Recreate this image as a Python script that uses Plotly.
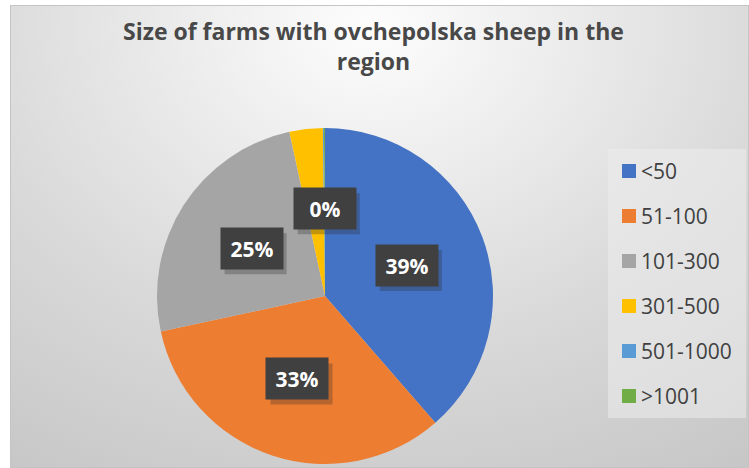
import base64
import math
import plotly.graph_objects as go

# Farm size classes and their share of farms (%)
categories = ["<50", "51-100", "101-300", "301-500", "501-1000", ">1001"]
shares = [38.6, 33.0, 25.0, 3.2, 0.1, 0.1]
colors = ["#4472C4", "#ED7D31", "#A5A5A5", "#FFC000", "#5B9BD5", "#70AD47"]
# slices whose percentage is printed in a box
labelled = [0, 1, 2, 5]

title_text = "Size of farms with ovchepolska sheep in the<br>region"

W, H = 749, 468
CX, CY, R = 325, 296, 168


def px_x(x):
    return x / W


def px_y(y):
    return 1 - y / H


# soft radial background of the chart area
svg = (
    '<svg xmlns="http://www.w3.org/2000/svg" width="739" height="463" '
    'preserveAspectRatio="none" viewBox="0 0 739 463">'
    '<defs><radialGradient id="g" cx="0.49" cy="0.05" r="1.0" '
    'gradientTransform="translate(0.49 0.05) scale(1 1.25) translate(-0.49 -0.05)">'
    '<stop offset="0" stop-color="#fdfdfd"/>'
    '<stop offset="0.55" stop-color="#d9d9d9"/>'
    '<stop offset="1" stop-color="#c2c2c2"/>'
    '</radialGradient></defs>'
    '<rect width="739" height="463" fill="url(#g)"/>'
    '<rect x="0.5" y="0.5" width="738" height="462" fill="none" stroke="#c4c4c4" stroke-width="1"/>'
    '</svg>'
)
bg_uri = "data:image/svg+xml;base64," + base64.b64encode(svg.encode()).decode()

fig = go.Figure()

fig.add_trace(
    go.Pie(
        labels=categories,
        values=shares,
        marker=dict(colors=colors, line=dict(width=0)),
        sort=False,
        direction="clockwise",
        rotation=0,
        textinfo="none",
        hoverinfo="label+percent",
        showlegend=False,
        domain=dict(x=[px_x(CX - R), px_x(CX + R)], y=[px_y(CY + R), px_y(CY - R)]),
    )
)

annotations = []
shapes = []

# percentage boxes placed at the middle angle of each slice
total = sum(shares)
cum = 0.0
mids = []
for v in shares:
    mids.append((cum + v / 2) / total * 2 * math.pi)
    cum += v

BW, BH = 62, 41
for i in labelled:
    ang = mids[i]
    lx = CX + 0.52 * R * math.sin(ang)
    ly = CY - 0.52 * R * math.cos(ang)
    txt = f"<b>{shares[i] / total * 100:.0f}%</b>"
    # drop shadow behind the box
    shapes.append(dict(
        type="rect", xref="paper", yref="paper",
        xsizemode="pixel", ysizemode="pixel",
        xanchor=px_x(lx), yanchor=px_y(ly),
        x0=-BW / 2 + 4, x1=BW / 2 + 4, y0=-BH / 2 - 5, y1=BH / 2 - 5,
        fillcolor="rgba(40,40,40,0.28)", line=dict(width=0),
    ))
    annotations.append(dict(
        x=px_x(lx), y=px_y(ly), xref="paper", yref="paper",
        xanchor="center", yanchor="middle",
        text=txt, showarrow=False,
        font=dict(family="Open Sans", size=21, color="#ffffff"),
        bgcolor="#404040", width=BW, height=BH, borderpad=0,
    ))

# legend panel
shapes.append(dict(
    type="rect", xref="paper", yref="paper",
    x0=px_x(608), x1=px_x(746), y0=px_y(418), y1=px_y(149),
    fillcolor="rgba(236,236,236,0.55)", line=dict(width=0), layer="below",
))
for i, (cat, col) in enumerate(zip(categories, colors)):
    yc = 171 + 45 * i
    shapes.append(dict(
        type="rect", xref="paper", yref="paper",
        x0=px_x(622), x1=px_x(636), y0=px_y(yc + 7), y1=px_y(yc - 7),
        fillcolor=col, line=dict(width=0),
    ))
    annotations.append(dict(
        x=px_x(639), y=px_y(yc), xref="paper", yref="paper",
        xanchor="left", yanchor="middle", text=cat, showarrow=False,
        font=dict(family="Open Sans", size=21, color="#404040"),
    ))

# chart title
annotations.append(dict(
    x=px_x(373), y=px_y(46), xref="paper", yref="paper",
    xanchor="center", yanchor="middle", text=f"<b>{title_text}</b>", showarrow=False,
    font=dict(family="Open Sans", size=23, color="#484848"),
))

fig.update_layout(
    width=W, height=H,
    margin=dict(l=0, r=0, t=0, b=0),
    paper_bgcolor="#ffffff",
    plot_bgcolor="rgba(0,0,0,0)",
    annotations=annotations,
    shapes=shapes,
    images=[dict(
        source=bg_uri, xref="paper", yref="paper",
        x=px_x(10), y=px_y(5), sizex=739 / W, sizey=463 / H,
        xanchor="left", yanchor="top", sizing="stretch", layer="below",
    )],
)

fig.write_html("out.html")
